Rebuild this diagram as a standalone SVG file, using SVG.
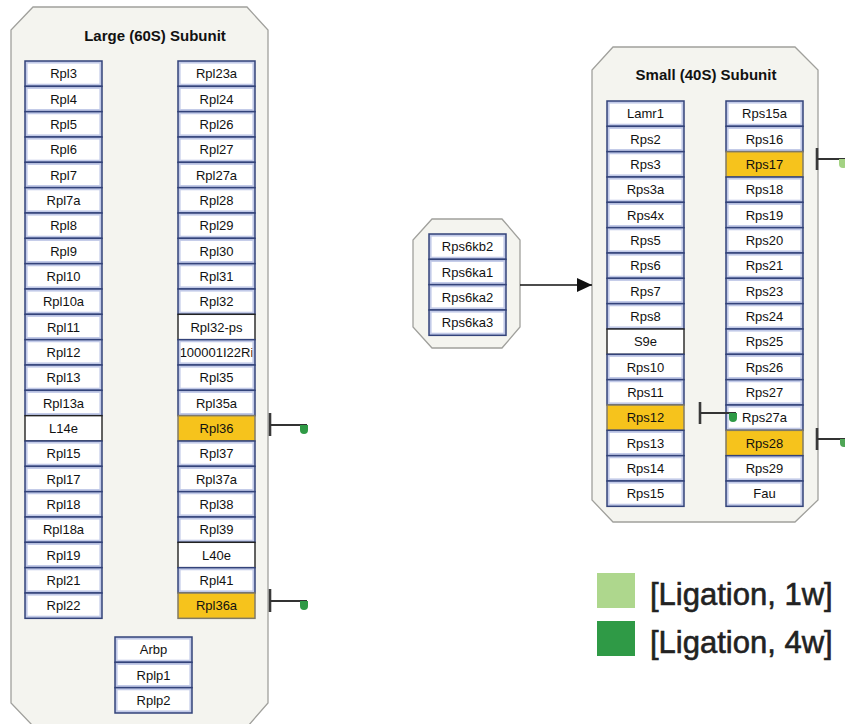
<svg xmlns="http://www.w3.org/2000/svg" xmlns:xlink="http://www.w3.org/1999/xlink" width="845" height="724" viewBox="0 0 845 724">
  <style>
    .cont { fill: #f4f4ef; stroke: #a0a09c; stroke-width: 1.3; }
    .title { font-family: "Liberation Sans", Arial, sans-serif; font-weight: bold; font-size: 15px; fill: #111; text-anchor: middle; }
    .lbl { font-family: "Liberation Sans", Arial, sans-serif; font-size: 13px; fill: #111; text-anchor: middle; }
    .bo { fill: #c2cae8; stroke: #33437a; stroke-width: 1.5; }
    .bi { fill: #ffffff; }
    .plain { fill: #ffffff; stroke: #222; stroke-width: 1.4; }
    .hl { fill: #f6c31c; stroke: #807a66; stroke-width: 1.5; }
    .tbar { stroke: #3a3a3a; stroke-width: 2.6; fill: none; }
    .tline { stroke: #333; stroke-width: 2; fill: none; }
    .leg { font-family: "Liberation Sans", Arial, sans-serif; font-size: 31px; fill: #222; stroke: #222; stroke-width: 0.6; }
    .conn { stroke: #111; stroke-width: 1.4; fill: none; }
  </style>
  <defs>
    <!-- framed gene box: navy outline, pale blue band, white face -->
    <g id="bx">
      <rect class="bo" x="0" y="0" width="77" height="25.33"/>
      <rect class="bi" x="2.6" y="2.6" width="71.8" height="20.1"/>
    </g>
    <g id="bxp">
      <rect class="plain" x="0" y="0" width="77" height="25.33"/>
    </g>
    <g id="bxh">
      <rect class="hl" x="0" y="0" width="77" height="25.33"/>
    </g>
    <clipPath id="clipIn">
      <rect x="2.6" y="2.6" width="71.8" height="20.1"/>
    </clipPath>
    <marker id="arr" viewBox="0 0 15 14" refX="15" refY="7" markerWidth="15" markerHeight="14" markerUnits="userSpaceOnUse" orient="auto">
      <path d="M0,0 L15,7 L0,14 Z" fill="#111"/>
    </marker>
  </defs>

  <!-- compartments -->
  <g id="large-subunit">
    <path class="cont" d="M33,7 L247,7 L268,30 L268,703 L248,726 L33,726 L11,703 L11,30 Z"/>
    <text class="title" x="155" y="41">Large (60S) Subunit</text>
  </g>
  <g id="small-subunit">
    <path class="cont" d="M613,47 L795,47 L818,70 L818,500 L795,522 L613,522 L592,500 L592,70 Z"/>
    <text class="title" x="706" y="80">Small (40S) Subunit</text>
  </g>
  <g id="rps6k-group">
    <path class="cont" d="M432,219 L502,219 L520,240 L520,327 L502,348 L432,348 L413,327 L413,240 Z"/>
  </g>

  <!-- large subunit, left column -->
  <g id="Rpl3" transform="translate(25,61)"><use href="#bx"/><text class="lbl" x="38.5" y="17.3">Rpl3</text></g>
  <g id="Rpl4" transform="translate(25,86.33)"><use href="#bx"/><text class="lbl" x="38.5" y="17.3">Rpl4</text></g>
  <g id="Rpl5" transform="translate(25,111.67)"><use href="#bx"/><text class="lbl" x="38.5" y="17.3">Rpl5</text></g>
  <g id="Rpl6" transform="translate(25,137)"><use href="#bx"/><text class="lbl" x="38.5" y="17.3">Rpl6</text></g>
  <g id="Rpl7" transform="translate(25,162.33)"><use href="#bx"/><text class="lbl" x="38.5" y="17.3">Rpl7</text></g>
  <g id="Rpl7a" transform="translate(25,187.67)"><use href="#bx"/><text class="lbl" x="38.5" y="17.3">Rpl7a</text></g>
  <g id="Rpl8" transform="translate(25,213)"><use href="#bx"/><text class="lbl" x="38.5" y="17.3">Rpl8</text></g>
  <g id="Rpl9" transform="translate(25,238.33)"><use href="#bx"/><text class="lbl" x="38.5" y="17.3">Rpl9</text></g>
  <g id="Rpl10" transform="translate(25,263.67)"><use href="#bx"/><text class="lbl" x="38.5" y="17.3">Rpl10</text></g>
  <g id="Rpl10a" transform="translate(25,289)"><use href="#bx"/><text class="lbl" x="38.5" y="17.3">Rpl10a</text></g>
  <g id="Rpl11" transform="translate(25,314.33)"><use href="#bx"/><text class="lbl" x="38.5" y="17.3">Rpl11</text></g>
  <g id="Rpl12" transform="translate(25,339.67)"><use href="#bx"/><text class="lbl" x="38.5" y="17.3">Rpl12</text></g>
  <g id="Rpl13" transform="translate(25,365)"><use href="#bx"/><text class="lbl" x="38.5" y="17.3">Rpl13</text></g>
  <g id="Rpl13a" transform="translate(25,390.33)"><use href="#bx"/><text class="lbl" x="38.5" y="17.3">Rpl13a</text></g>
  <g id="L14e" transform="translate(25,415.67)"><use href="#bxp"/><text class="lbl" x="38.5" y="17.3">L14e</text></g>
  <g id="Rpl15" transform="translate(25,441)"><use href="#bx"/><text class="lbl" x="38.5" y="17.3">Rpl15</text></g>
  <g id="Rpl17" transform="translate(25,466.33)"><use href="#bx"/><text class="lbl" x="38.5" y="17.3">Rpl17</text></g>
  <g id="Rpl18" transform="translate(25,491.67)"><use href="#bx"/><text class="lbl" x="38.5" y="17.3">Rpl18</text></g>
  <g id="Rpl18a" transform="translate(25,517)"><use href="#bx"/><text class="lbl" x="38.5" y="17.3">Rpl18a</text></g>
  <g id="Rpl19" transform="translate(25,542.33)"><use href="#bx"/><text class="lbl" x="38.5" y="17.3">Rpl19</text></g>
  <g id="Rpl21" transform="translate(25,567.67)"><use href="#bx"/><text class="lbl" x="38.5" y="17.3">Rpl21</text></g>
  <g id="Rpl22" transform="translate(25,593)"><use href="#bx"/><text class="lbl" x="38.5" y="17.3">Rpl22</text></g>

  <!-- large subunit, right column -->
  <g id="Rpl23a" transform="translate(178,61)"><use href="#bx"/><text class="lbl" x="38.5" y="17.3">Rpl23a</text></g>
  <g id="Rpl24" transform="translate(178,86.33)"><use href="#bx"/><text class="lbl" x="38.5" y="17.3">Rpl24</text></g>
  <g id="Rpl26" transform="translate(178,111.67)"><use href="#bx"/><text class="lbl" x="38.5" y="17.3">Rpl26</text></g>
  <g id="Rpl27" transform="translate(178,137)"><use href="#bx"/><text class="lbl" x="38.5" y="17.3">Rpl27</text></g>
  <g id="Rpl27a" transform="translate(178,162.33)"><use href="#bx"/><text class="lbl" x="38.5" y="17.3">Rpl27a</text></g>
  <g id="Rpl28" transform="translate(178,187.67)"><use href="#bx"/><text class="lbl" x="38.5" y="17.3">Rpl28</text></g>
  <g id="Rpl29" transform="translate(178,213)"><use href="#bx"/><text class="lbl" x="38.5" y="17.3">Rpl29</text></g>
  <g id="Rpl30" transform="translate(178,238.33)"><use href="#bx"/><text class="lbl" x="38.5" y="17.3">Rpl30</text></g>
  <g id="Rpl31" transform="translate(178,263.67)"><use href="#bx"/><text class="lbl" x="38.5" y="17.3">Rpl31</text></g>
  <g id="Rpl32" transform="translate(178,289)"><use href="#bx"/><text class="lbl" x="38.5" y="17.3">Rpl32</text></g>
  <g id="Rpl32-ps" transform="translate(178,314.33)"><use href="#bxp"/><text class="lbl" x="38.5" y="17.3">Rpl32-ps</text></g>
  <g id="n100001I22Ri" transform="translate(178,339.67)"><use href="#bx"/><text class="lbl" x="38.5" y="17.3" clip-path="url(#clipIn)">100001I22Ri</text></g>
  <g id="Rpl35" transform="translate(178,365)"><use href="#bx"/><text class="lbl" x="38.5" y="17.3">Rpl35</text></g>
  <g id="Rpl35a" transform="translate(178,390.33)"><use href="#bx"/><text class="lbl" x="38.5" y="17.3">Rpl35a</text></g>
  <g id="Rpl36" transform="translate(178,415.67)"><use href="#bxh"/><text class="lbl" x="38.5" y="17.3">Rpl36</text></g>
  <g id="Rpl37" transform="translate(178,441)"><use href="#bx"/><text class="lbl" x="38.5" y="17.3">Rpl37</text></g>
  <g id="Rpl37a" transform="translate(178,466.33)"><use href="#bx"/><text class="lbl" x="38.5" y="17.3">Rpl37a</text></g>
  <g id="Rpl38" transform="translate(178,491.67)"><use href="#bx"/><text class="lbl" x="38.5" y="17.3">Rpl38</text></g>
  <g id="Rpl39" transform="translate(178,517)"><use href="#bx"/><text class="lbl" x="38.5" y="17.3">Rpl39</text></g>
  <g id="L40e" transform="translate(178,542.33)"><use href="#bxp"/><text class="lbl" x="38.5" y="17.3">L40e</text></g>
  <g id="Rpl41" transform="translate(178,567.67)"><use href="#bx"/><text class="lbl" x="38.5" y="17.3">Rpl41</text></g>
  <g id="Rpl36a" transform="translate(178,593)"><use href="#bxh"/><text class="lbl" x="38.5" y="17.3">Rpl36a</text></g>

  <!-- large subunit, stalk proteins -->
  <g id="Arbp" transform="translate(115,637)"><use href="#bx"/><text class="lbl" x="38.5" y="17.3">Arbp</text></g>
  <g id="Rplp1" transform="translate(115,662.33)"><use href="#bx"/><text class="lbl" x="38.5" y="17.3">Rplp1</text></g>
  <g id="Rplp2" transform="translate(115,687.67)"><use href="#bx"/><text class="lbl" x="38.5" y="17.3">Rplp2</text></g>

  <!-- Rps6 kinases -->
  <g id="Rps6kb2" transform="translate(429,234)"><use href="#bx"/><text class="lbl" x="38.5" y="17.3">Rps6kb2</text></g>
  <g id="Rps6ka1" transform="translate(429,259.33)"><use href="#bx"/><text class="lbl" x="38.5" y="17.3">Rps6ka1</text></g>
  <g id="Rps6ka2" transform="translate(429,284.67)"><use href="#bx"/><text class="lbl" x="38.5" y="17.3">Rps6ka2</text></g>
  <g id="Rps6ka3" transform="translate(429,310)"><use href="#bx"/><text class="lbl" x="38.5" y="17.3">Rps6ka3</text></g>

  <!-- small subunit, left column -->
  <g id="Lamr1" transform="translate(607,101)"><use href="#bx"/><text class="lbl" x="38.5" y="17.3">Lamr1</text></g>
  <g id="Rps2" transform="translate(607,126.33)"><use href="#bx"/><text class="lbl" x="38.5" y="17.3">Rps2</text></g>
  <g id="Rps3" transform="translate(607,151.67)"><use href="#bx"/><text class="lbl" x="38.5" y="17.3">Rps3</text></g>
  <g id="Rps3a" transform="translate(607,177)"><use href="#bx"/><text class="lbl" x="38.5" y="17.3">Rps3a</text></g>
  <g id="Rps4x" transform="translate(607,202.33)"><use href="#bx"/><text class="lbl" x="38.5" y="17.3">Rps4x</text></g>
  <g id="Rps5" transform="translate(607,227.67)"><use href="#bx"/><text class="lbl" x="38.5" y="17.3">Rps5</text></g>
  <g id="Rps6" transform="translate(607,253)"><use href="#bx"/><text class="lbl" x="38.5" y="17.3">Rps6</text></g>
  <g id="Rps7" transform="translate(607,278.33)"><use href="#bx"/><text class="lbl" x="38.5" y="17.3">Rps7</text></g>
  <g id="Rps8" transform="translate(607,303.67)"><use href="#bx"/><text class="lbl" x="38.5" y="17.3">Rps8</text></g>
  <g id="S9e" transform="translate(607,329)"><use href="#bxp"/><text class="lbl" x="38.5" y="17.3">S9e</text></g>
  <g id="Rps10" transform="translate(607,354.33)"><use href="#bx"/><text class="lbl" x="38.5" y="17.3">Rps10</text></g>
  <g id="Rps11" transform="translate(607,379.67)"><use href="#bx"/><text class="lbl" x="38.5" y="17.3">Rps11</text></g>
  <g id="Rps12" transform="translate(607,405)"><use href="#bxh"/><text class="lbl" x="38.5" y="17.3">Rps12</text></g>
  <g id="Rps13" transform="translate(607,430.33)"><use href="#bx"/><text class="lbl" x="38.5" y="17.3">Rps13</text></g>
  <g id="Rps14" transform="translate(607,455.67)"><use href="#bx"/><text class="lbl" x="38.5" y="17.3">Rps14</text></g>
  <g id="Rps15" transform="translate(607,481)"><use href="#bx"/><text class="lbl" x="38.5" y="17.3">Rps15</text></g>

  <!-- small subunit, right column -->
  <g id="Rps15a" transform="translate(726,101)"><use href="#bx"/><text class="lbl" x="38.5" y="17.3">Rps15a</text></g>
  <g id="Rps16" transform="translate(726,126.33)"><use href="#bx"/><text class="lbl" x="38.5" y="17.3">Rps16</text></g>
  <g id="Rps17" transform="translate(726,151.67)"><use href="#bxh"/><text class="lbl" x="38.5" y="17.3">Rps17</text></g>
  <g id="Rps18" transform="translate(726,177)"><use href="#bx"/><text class="lbl" x="38.5" y="17.3">Rps18</text></g>
  <g id="Rps19" transform="translate(726,202.33)"><use href="#bx"/><text class="lbl" x="38.5" y="17.3">Rps19</text></g>
  <g id="Rps20" transform="translate(726,227.67)"><use href="#bx"/><text class="lbl" x="38.5" y="17.3">Rps20</text></g>
  <g id="Rps21" transform="translate(726,253)"><use href="#bx"/><text class="lbl" x="38.5" y="17.3">Rps21</text></g>
  <g id="Rps23" transform="translate(726,278.33)"><use href="#bx"/><text class="lbl" x="38.5" y="17.3">Rps23</text></g>
  <g id="Rps24" transform="translate(726,303.67)"><use href="#bx"/><text class="lbl" x="38.5" y="17.3">Rps24</text></g>
  <g id="Rps25" transform="translate(726,329)"><use href="#bx"/><text class="lbl" x="38.5" y="17.3">Rps25</text></g>
  <g id="Rps26" transform="translate(726,354.33)"><use href="#bx"/><text class="lbl" x="38.5" y="17.3">Rps26</text></g>
  <g id="Rps27" transform="translate(726,379.67)"><use href="#bx"/><text class="lbl" x="38.5" y="17.3">Rps27</text></g>
  <g id="Rps27a" transform="translate(726,405)"><use href="#bx"/><text class="lbl" x="38.5" y="17.3">Rps27a</text></g>
  <g id="Rps28" transform="translate(726,430.33)"><use href="#bxh"/><text class="lbl" x="38.5" y="17.3">Rps28</text></g>
  <g id="Rps29" transform="translate(726,455.67)"><use href="#bx"/><text class="lbl" x="38.5" y="17.3">Rps29</text></g>
  <g id="Fau" transform="translate(726,481)"><use href="#bx"/><text class="lbl" x="38.5" y="17.3">Fau</text></g>

  <!-- connectors -->
  <g id="connectors">
    <line class="conn" x1="520" y1="285" x2="592" y2="285" marker-end="url(#arr)"/>
  </g>

  <!-- expression glyphs: bar, stem, coloured tip -->
  <g id="glyphs">
    <g transform="translate(270,425)">
      <line class="tbar" x1="0" y1="-12" x2="0" y2="11"/>
      <line class="tline" x1="0" y1="0" x2="37" y2="0"/>
      <path d="M30,0 h8 v5 a4,4 0 0 1 -8,0 z" fill="#2f9a46"/>
    </g>
    <g transform="translate(270,601)">
      <line class="tbar" x1="0" y1="-12" x2="0" y2="11"/>
      <line class="tline" x1="0" y1="0" x2="37" y2="0"/>
      <path d="M30,0 h8 v5 a4,4 0 0 1 -8,0 z" fill="#2f9a46"/>
    </g>
    <g transform="translate(700,413)">
      <line class="tbar" x1="0" y1="-11" x2="0" y2="11"/>
      <line class="tline" x1="0" y1="0" x2="36" y2="0"/>
      <path d="M29,0 h8 v5 a4,4 0 0 1 -8,0 z" fill="#2f9a46"/>
    </g>
    <g transform="translate(817,159)">
      <line class="tbar" x1="0" y1="-11" x2="0" y2="11"/>
      <line class="tline" x1="0" y1="0" x2="30" y2="0"/>
      <path d="M22,0 h8 v5 a4,4 0 0 1 -8,0 z" fill="#a3d283"/>
    </g>
    <g transform="translate(817,439)">
      <line class="tbar" x1="0" y1="-11" x2="0" y2="11"/>
      <line class="tline" x1="0" y1="0" x2="30" y2="0"/>
      <path d="M23,0 h8 v4 a4,4 0 0 1 -8,0 z" fill="#4ea555"/>
    </g>
  </g>

  <!-- legend -->
  <g id="legend">
    <rect x="597" y="573" width="38" height="35" fill="#aed78d"/>
    <text class="leg" x="650" y="605">[Ligation, 1w]</text>
    <rect x="597" y="621" width="38" height="35" fill="#2f9a46"/>
    <text class="leg" x="650" y="653">[Ligation, 4w]</text>
  </g>
</svg>
